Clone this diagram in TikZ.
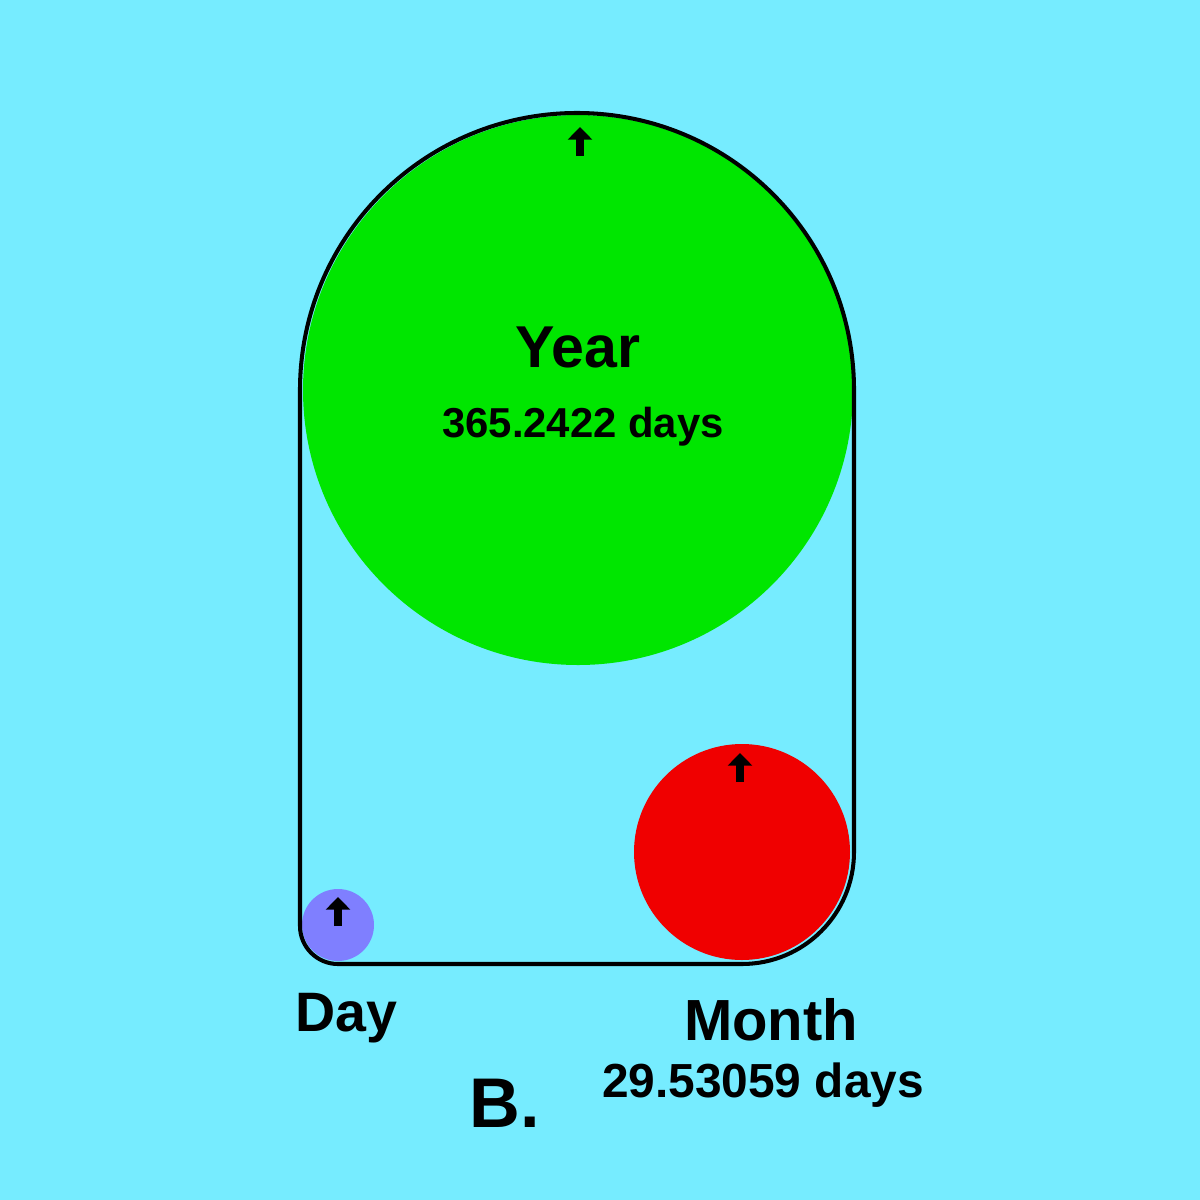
\documentclass[tikz,border=0pt]{standalone}
\usepackage{fontspec}
\setmainfont{Liberation Sans}
\usetikzlibrary{arrows.meta}
\definecolor{skycyan}{HTML}{76ECFF}
\definecolor{yeargreen}{HTML}{00E600}
\definecolor{monthred}{HTML}{F00000}
\definecolor{dayblue}{HTML}{7F7FFF}
\tikzset{
  orbit/.style={draw=black,line width=1.15pt,line join=round},
  marker/.style={-{Triangle[width=6.8pt,length=3.6pt]},line width=2pt},
  biglabel/.style={anchor=base,font=\bfseries\fontsize{16.8}{19}\selectfont},
  smalllabel/.style={anchor=base,font=\bfseries\fontsize{11.9}{14}\selectfont},
}

\begin{document}
\begin{tikzpicture}[x=.01cm,y=-.01cm]
  \fill[skycyan] (0,0) rectangle (1200,1200);
  % the three bodies
  \fill[yeargreen] (578,390) circle[radius=275];
  \fill[monthred] (742,852) circle[radius=108];
  \fill[dayblue] (338,925) circle[radius=36];
  % outline round all three
  \draw[orbit] (300,390) arc[start angle=180,end angle=360,radius=277]
    -- (854,852) arc[start angle=0,end angle=90,radius=112]
    -- (338,964) arc[start angle=90,end angle=180,radius=38] -- cycle;
  \foreach \cx/\cy in {580/127,740/753,338/897}
    \draw[marker] (\cx,\cy+29) -- (\cx,\cy);
  \node[biglabel] (year) at (578,367) {Year};
  \node[smalllabel] (yeardays) at (583,437) {365.2422 days};
  \node[biglabel,font=\bfseries\fontsize{15.8}{18}\selectfont] (day) at (346,1031) {Day};
  \node[biglabel,font=\bfseries\fontsize{16.5}{18}\selectfont] (month) at (771,1040) {Month};
  \node[smalllabel,font=\bfseries\fontsize{13.6}{16}\selectfont] (monthdays) at (763,1097) {29.53059 days};
  \node[biglabel,font=\bfseries\fontsize{20}{22}\selectfont] (panel) at (505,1127) {B.};
\end{tikzpicture}
\end{document}
